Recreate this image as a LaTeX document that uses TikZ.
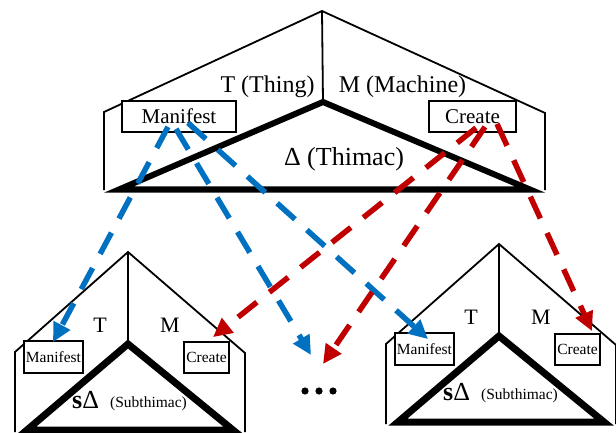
\documentclass[tikz,border=0pt]{standalone}
\usepackage{fontspec}
\setmainfont{Liberation Serif}
\usetikzlibrary{arrows.meta,calc}
\definecolor{myblue}{RGB}{0,112,192}
\definecolor{myred}{RGB}{192,0,0}
\begin{document}
\begin{tikzpicture}[x=1pt,y=-1pt,
  roofline/.style={line width=1.8pt, line join=miter},
  thicktri/.style={line width=6pt, line join=miter},
  thicktrib/.style={line width=7pt, line join=miter},
  box/.style={draw, fill=white, line width=1.8pt, inner sep=0pt},
  link/.style={line width=5.5pt, dash pattern=on 24pt off 16pt, -{Triangle[length=19pt,width=18pt]}},
  bluelink/.style={link, draw=myblue},
  redlink/.style={link, draw=myred},
  bigtxt/.style={font=\fontsize{24}{28}\selectfont},
  midtxt/.style={font=\fontsize{22}{26}\selectfont},
  smalltxt/.style={font=\fontsize{15.5}{18}\selectfont}
]
\useasboundingbox (0,0) rectangle (616,433);

% ---------- top house ----------
\draw[roofline] (104,190) -- (104,112) -- (322,11) -- (545,113) -- (545,190);
\draw[roofline] (322,11) -- (323,102);
\draw[thicktri] (119,189.5) -- (323,102) -- (530,189.5) -- cycle;
\node[bigtxt, anchor=base] (tThing) at (267.5,93) {T (Thing)};
\node[bigtxt, anchor=base] (tMach) at (402.5,93) {M (Machine)};
\node[font=\fontsize{26}{30}\selectfont, anchor=base] (tThimac) at (344,165) {Δ (Thimac)};
\node[box, minimum width=114pt, minimum height=31pt, font=\fontsize{21}{24}\selectfont] (tMan) at (179,116.5) {Manifest};
\node[box, minimum width=87pt, minimum height=31pt, font=\fontsize{21}{24}\selectfont] (tCre) at (472.5,116.5) {Create};

% ---------- bottom houses ----------
\foreach \p/\dx/\dy in {bl/0/0, br/371/-8}{
  \begin{scope}[shift={(\dx,\dy)}]
    \draw[roofline] (15,432) -- (15,352) -- (128,252) -- (245,353) -- (245,432);
    \draw[roofline] (128,252) -- (128,344);
    \draw[thicktrib] (27,430) -- (128,344) -- (233,430) -- cycle;
    \node[midtxt, anchor=base] (\p T) at (100,332) {T};
    \node[midtxt, anchor=base] (\p M) at (170,332) {M};
    \node[box, smalltxt, minimum width=59pt, minimum height=32pt] (\p Man) at (53.5,357) {Manifest};
    \node[box, smalltxt, minimum width=45pt, minimum height=31pt] (\p Cre) at (206.5,357.5) {Create};
    \node[font=\fontsize{26}{30}\selectfont, anchor=base west, inner sep=0pt] (\p S) at (72,408) {\textbf{s}Δ};
    \node[smalltxt, anchor=base west, inner sep=0pt] (\p Sub) at (110,407) {(Subthimac)};
  \end{scope}
}

% ---------- ellipsis ----------
\node[inner sep=0pt, minimum size=8pt] (dots) at (319,391) {};
\fill ([xshift=-14pt]dots.center) circle (3.6);
\fill (dots.center) circle (3.6);
\fill ([xshift=14pt]dots.center) circle (3.6);

% ---------- connectors ----------
\draw[bluelink] ([shift={(-11,-6)}]tMan.south) -- ([shift={(-0.5,2)}]blMan.north);
\draw[bluelink] ([shift={(-3,-4)}]tMan.south) -- ([shift={(-8,-36)}]dots.center);
\draw[bluelink] ([shift={(9,-10)}]tMan.south) -- ([shift={(3.5,7)}]brMan.north);
\draw[redlink] ([shift={(3.5,-5)}]tCre.south) -- ([shift={(6.5,-4)}]blCre.north);
\draw[redlink] ([shift={(12.5,-6)}]tCre.south) -- ([shift={(4,-27)}]dots.center);
\draw[redlink] ([shift={(24.5,-9)}]tCre.south) -- ([shift={(14.5,-2)}]brCre.north);
\end{tikzpicture}
\end{document}
